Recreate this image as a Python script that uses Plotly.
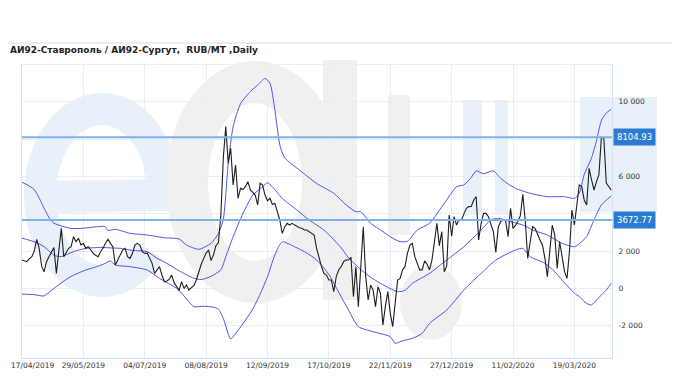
import math
import plotly.graph_objects as go

# ---------------- data ----------------
title_text = "АИ92-Ставрополь / АИ92-Сургут,  RUB/MT ,Daily"

x_tick_labels = ["17/04/2019", "29/05/2019", "04/07/2019", "08/08/2019", "12/09/2019",
                 "17/10/2019", "22/11/2019", "27/12/2019", "11/02/2020", "19/03/2020"]
x_tick_step = 25  # trading days between labelled dates

y_tick_vals = [-2000, 0, 2000, 4000, 6000, 8000, 10000, 12000]
y_tick_labels = ["-2 000", "0", "2 000", "", "6 000", "", "10 000", ""]

price = [
    1527, 1480, 1437, 1600, 1705, 2000, 2635, 2153, 1200, 900,
    1437, 1700, 1950, 2190, 810, 2063, 3224, 1705, 1973, 2153,
    2242, 2778, 2510, 2689, 2331, 2420, 2153, 2242, 2063, 1884,
    1780, 1705, 1973, 2153, 2420, 2635, 2420, 2242, 1258, 1527,
    1794, 2063, 2153, 1705, 1616, 1884, 2331, 2420, 2331, 1973,
    1884, 1900, 1616, 1347, 810, 990, 1168, 720, 363, 400,
    500, 720, 300, 100, -100, 365, 10, 190, -80, 50,
    150, 455, 900, 1300, 1600, 1900, 2063, 1500, 1800, 2300,
    2450, 3938, 7000, 8671, 6706, 7510, 5545, 6617, 4831, 5367,
    5300, 5456, 5724, 5277, 5150, 5009, 4474, 5634, 5545, 5009,
    4700, 4831, 4500, 4563, 4117, 3670, 2956, 3300, 3491, 3402,
    3491, 3400, 3313, 3250, 3224, 3134, 3134, 3045, 2956, 2867,
    2153, 1617, 1170, 812, 723, 455, 455, -170, 634, 991,
    1170, 1438, 1527, 1527, 1670, -437, 1170, -973, 1170, 3313,
    634, -616, 187, -80, -973, 97, -259, -1956, -973, -170,
    -1330, -2045, -795, 455, 544, 991, 1170, 1884, 2330, 2420,
    1706, 1400, 1000, 1000, 1480, 1300, 1000, 1527, 2500, 3492,
    2300, 3045, 902, 1200, 3937, 2800, 3849, 3400, 3700, 3650,
    4000, 4295, 4385, 4400, 4741, 4920, 2600, 3492, 4027, 4027,
    3849, 3500, 3045, 1937, 3300, 3581, 3670, 3620, 2777, 4295,
    3224, 3380, 3600, 3900, 5050, 3600, 1616, 2509, 3313, 3224,
    2866, 2598, 2330, 1616, 633, 1973, 3401, 2866, 1080, 2509,
    1795, 902, 544, 2000, 4206, 3402, 4474, 5545, 5456, 4741,
    4474, 6439, 5813, 5277, 5724, 6100, 8104.93, 8050, 5650, 5450,
    5280,
]

upper_idx = [0, 5, 9, 11, 13, 20, 25, 30, 34, 35, 38, 44, 51, 58, 64, 67, 72, 77, 80, 82,
             84, 86, 89, 93, 96, 99, 101, 103, 105, 107, 113, 120, 127, 132, 136, 138, 142,
             147, 150, 154, 157, 161, 166, 172, 177, 180, 183, 185, 188, 192, 195, 198, 201,
             207, 214, 221, 225, 227, 229, 232, 234, 236, 238, 240]
upper_val = [5700, 5300, 4300, 3800, 3500, 3220, 3230, 3300, 3320, 3110, 3170, 2956, 2866,
             2720, 2650, 2330, 2100, 2420, 2950, 3700, 6700, 8670, 9900, 10550, 10900, 11250,
             11000, 9570, 7700, 7000, 6350, 5630, 5100, 4480, 4110, 4120, 3500, 3050, 2770,
             2510, 2530, 3130, 3490, 4560, 5450, 5550, 5950, 6300, 6150, 6300, 5900, 5600,
             5370, 5100, 4920, 4920, 4830, 5100, 6100, 7000, 7900, 9000, 9400, 9600]

middle_idx = [0, 5, 9, 13, 16, 21, 26, 32, 37, 40, 45, 51, 55, 59, 64, 70, 73, 77, 81, 83,
              86, 90, 94, 98, 100, 102, 106, 112, 117, 123, 126, 130, 133, 136, 139, 142,
              146, 150, 153, 156, 159, 166, 173, 180, 187, 191, 194, 199, 204, 208, 214,
              220, 225, 227, 230, 233, 236, 240]
middle_val = [2700, 2500, 2240, 1780, 1710, 1980, 2150, 2200, 2170, 2150, 2040, 1975, 1620,
              1350, 950, 546, 480, 650, 1000, 1700, 2770, 4020, 5000, 5450, 5665, 5450, 4830,
              4200, 3670, 3130, 2750, 2180, 1650, 1260, 903, 600, 277, 0, -170, -100, 277,
              813, 1527, 2241, 3134, 3670, 3760, 3581, 3402, 3134, 2866, 2420, 2241, 2400,
              2777, 3670, 4474, 4956]

lower_idx = [0, 5, 9, 12, 16, 20, 26, 30, 34, 36, 38, 44, 51, 56, 63, 66, 70, 74, 78, 80,
             82, 85, 88, 91, 94, 97, 100, 103, 106, 111, 116, 120, 125, 129, 133, 137, 143,
             150, 152, 155, 159, 163, 166, 173, 180, 187, 193, 201, 204, 207, 213, 217, 220,
             225, 227, 230, 232, 234, 236, 238, 240]
lower_val = [-300, -330, -400, -100, 300, 650, 990, 1150, 1350, 1480, 1260, 1170, 990, 545,
             9, -400, -975, -950, -1000, -1100, -1600, -2700, -2240, -1700, -1100, -300, 630,
             1800, 2500, 2240, 1900, 1530, 750, -200, -1153, -2046, -2314, -2582, -2940,
             -2800, -2672, -2403, -1868, -1153, -80, 813, 1527, 2062, 2151, 1706, 1348, 900,
             450, -250, -437, -800, -880, -616, -348, -80, 277]

level_values = [8104.93, 3672.77]
level_labels = ["8104.93", "3672.77"]

# ---------------- figure ----------------
OFF = 8                          # the page body margin that shifts the figure
W, H = 680 - OFF, 380 - OFF
PL, PR, PT, PB = 22, 612, 63, 358    # wanted plot area, in window pixels
L, R, T, B = PL - OFF, PR - OFF, PT - OFF, PB - OFF


def px(x):   # window pixel -> paper x
    return (x - PL) / (PR - PL)


def py(y):   # window pixel -> paper y
    return (PB - y) / (PB - PT)


band_color = "#5252e6"
fig = go.Figure()
for idx, val in ((upper_idx, upper_val), (middle_idx, middle_val), (lower_idx, lower_val)):
    fig.add_trace(go.Scatter(x=idx, y=val, mode="lines",
                             line=dict(color=band_color, width=1, shape="spline", smoothing=0.6),
                             hoverinfo="skip", showlegend=False))
fig.add_trace(go.Scatter(x=list(range(len(price))), y=price, mode="lines",
                         line=dict(color="#1e1e1e", width=1.1), showlegend=False))

shapes = []
# watermark (decoration)
wm_blue = "#e8f0f9"
wm_grey = "#f0f0f0"


def ring_path(cx, cy, rx, ry, a0, a1, n=60, start=None):
    pts = []
    if start:
        pts.append(start)
    for k in range(n + 1):
        a = math.radians(a0 + (a1 - a0) * k / n)
        pts.append((cx + rx * math.cos(a), cy - ry * math.sin(a)))
    return "M " + " L ".join(f"{px(x):.4f},{py(y):.4f}" for x, y in pts)


# "e"
shapes.append(dict(type="path", xref="paper", yref="paper", layer="below",
                   path=ring_path(102, 195, 62, 86, 0, 320, start=(44, 197)),
                   line=dict(color=wm_blue, width=32)))
# "O"
shapes.append(dict(type="path", xref="paper", yref="paper", layer="below",
                   path=ring_path(255, 182, 68, 100, 0, 360),
                   line=dict(color=wm_grey, width=42)))
# "i" / "l"
shapes.append(dict(type="rect", xref="paper", yref="paper", layer="below",
                   x0=px(323), x1=px(357), y0=py(300), y1=py(60),
                   fillcolor=wm_grey, line=dict(width=0)))
shapes.append(dict(type="rect", xref="paper", yref="paper", layer="below",
                   x0=px(388), x1=px(410), y0=py(235), y1=py(95),
                   fillcolor=wm_grey, line=dict(width=0)))
# drop
shapes.append(dict(type="circle", xref="paper", yref="paper", layer="below",
                   x0=px(400), x1=px(462), y0=py(340), y1=py(265),
                   fillcolor=wm_grey, line=dict(width=0)))
# "r"
shapes.append(dict(type="rect", xref="paper", yref="paper", layer="below",
                   x0=px(463), x1=px(482), y0=py(215), y1=py(100),
                   fillcolor=wm_blue, line=dict(width=0)))
shapes.append(dict(type="rect", xref="paper", yref="paper", layer="below",
                   x0=px(495), x1=px(508), y0=py(215), y1=py(100),
                   fillcolor=wm_blue, line=dict(width=0)))
# "u"
shapes.append(dict(type="rect", xref="paper", yref="paper", layer="below",
                   x0=px(580), x1=px(657), y0=py(212), y1=py(97),
                   fillcolor=wm_blue, line=dict(width=0)))

# title rule
shapes.append(dict(type="line", xref="paper", yref="paper",
                   x0=px(OFF), x1=px(680), y0=py(43), y1=py(43),
                   line=dict(color="#d9d9d9", width=1)))
# level lines
for v in level_values:
    shapes.append(dict(type="line", xref="paper", yref="y", x0=0, x1=1, y0=v, y1=v,
                       line=dict(color="#7eb2e4", width=2), layer="above"))

tick_font = dict(family="DejaVu Sans", size=7.5, color="#333")
annotations = []
for v, t in zip(level_values, level_labels):
    annotations.append(dict(xref="paper", yref="y", x=1, y=v, xanchor="left", yanchor="middle",
                            xshift=1, text=t, showarrow=False, bgcolor="#2c7bd3",
                            borderpad=3, font=dict(family="DejaVu Sans", size=8.5, color="white")))
annotations.append(dict(xref="paper", yref="paper", x=px(OFF), y=py(50), xanchor="left",
                        yanchor="middle", text="<b>" + title_text + "</b>", showarrow=False,
                        font=dict(family="DejaVu Sans", size=9, color="#222")))
# first date label sits at the very left edge of the page: written as a note so it is not cut
annotations.append(dict(xref="paper", yref="paper", x=px(OFF + 1), y=py(365), xanchor="left",
                        yanchor="middle", text=x_tick_labels[0], showarrow=False,
                        font=tick_font))
shown_ticks = [""] + x_tick_labels[1:]

grid = "#e6eef7"
fig.update_layout(
    width=W, height=H,
    margin=dict(l=L, r=W - R, t=T, b=H - B, autoexpand=False),
    paper_bgcolor="white", plot_bgcolor="rgba(0,0,0,0)",
    showlegend=False,
    shapes=shapes, annotations=annotations,
    xaxis=dict(range=[0, (PR - PL) / 2.455],
               tickvals=[i * x_tick_step for i in range(len(x_tick_labels))],
               ticktext=shown_ticks, showgrid=True, gridcolor=grid, gridwidth=1,
               zeroline=False, showline=True, linecolor="#d3e2f1", ticks="",
               automargin=False, tickfont=tick_font),
    yaxis=dict(range=[-3723, 12081], side="right", tickvals=y_tick_vals, ticktext=y_tick_labels,
               showgrid=True, gridcolor=grid, gridwidth=1, zeroline=False,
               showline=True, mirror=True, linecolor="#d3e2f1", automargin=False,
               ticks="outside", ticklen=4, tickcolor="rgba(0,0,0,0)",
               tickfont=tick_font),
)

fig.write_html("out.html")
